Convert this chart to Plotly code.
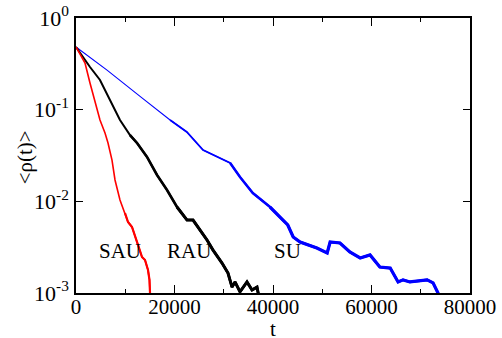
import math
import plotly.graph_objects as go

# Mean density <rho(t)> for three update schemes
su_t = [0, 6300, 13200, 19100, 22500, 25800, 29200, 31300, 33300, 35900, 39400,
        42000, 43000, 44100, 45500, 48900, 51000, 51600, 53600, 55600, 57700,
        59700, 61700, 63800, 65400, 66400, 67800, 71300, 72500, 73500, 73700]
su_rho = [0.483, 0.27, 0.137, 0.0771, 0.0571, 0.0363, 0.0297, 0.0262, 0.01844,
          0.01233, 0.00867, 0.00625, 0.00552, 0.00408, 0.0036, 0.0031, 0.00273,
          0.0036, 0.00351, 0.0028, 0.00241, 0.0026, 0.00192, 0.00187, 0.00132,
          0.00139, 0.00132, 0.00139, 0.00129, 0.001, 0.0008]

rau_t = [0, 2840, 4870, 6900, 8930, 10960, 12390, 14420, 16450, 18480, 20510,
         22540, 23760, 25180, 26600, 27820, 29650, 30860, 31680, 32290, 33300,
         34720, 35740, 36750, 37160]
rau_rho = [0.483, 0.292, 0.211, 0.1274, 0.0771, 0.0529, 0.0433, 0.0305, 0.01938,
           0.0133, 0.00867, 0.00625, 0.00625, 0.00486, 0.00379, 0.00294, 0.00212,
           0.00165, 0.00116, 0.00132, 0.00103, 0.00132, 0.00108, 0.00116, 0.0009]

sau_t = [0, 1830, 2840, 3860, 4870, 5890, 6500, 7310, 7920, 8930, 9950, 10560,
         11370, 11980, 12790, 13400, 14010, 14620, 14920, 15030, 15080]
sau_rho = [0.483, 0.323, 0.1954, 0.1183, 0.0771, 0.0557, 0.0433, 0.0282, 0.0171,
           0.01035, 0.00746, 0.00595, 0.00525, 0.00408, 0.0031, 0.00247, 0.00229,
           0.00178, 0.00139, 0.001, 0.0008]

x_tickvals = [0, 20000, 40000, 60000, 80000]
x_ticktext = ["0", "20000", "40000", "60000", "80000"]
y_tickvals = [1e-3, 1e-2, 1e-1, 1]
y_ticktext = ["10<sup>-3</sup>", "10<sup>-2</sup>", "10<sup>-1</sup>", "10<sup>0</sup>"]

labels = ["SAU", "RAU", "SU"]
label_t = [8900, 23000, 43000]
label_rho = [0.00287, 0.00287, 0.00287]

SERIF = "Liberation Serif"

fig = go.Figure()

# Each curve gets thicker as it decays (the fluctuations widen on a log scale),
# so the later stretches are redrawn with a heavier stroke.
def add_curve(t, rho, color, widths):
    for start, w in widths:
        idx = [i for i, v in enumerate(t) if v >= start]
        i0 = max(idx[0] - 1, 0) if idx else 0
        fig.add_trace(go.Scatter(x=t[i0:], y=rho[i0:], mode="lines",
                                 line=dict(color=color, width=w),
                                 showlegend=False, hoverinfo="skip"))

add_curve(su_t, su_rho, "#0000ff", [(0, 1.1), (22000, 1.8), (33000, 2.5), (42000, 3.2)])
add_curve(rau_t, rau_rho, "#000000", [(0, 2.0), (12000, 2.6), (22000, 3.0)])
add_curve(sau_t, sau_rho, "#ff0000", [(0, 1.6), (10000, 2.2)])

# annotations on a log axis take log10 positions
for txt, xt, yr in zip(labels, label_t, label_rho):
    fig.add_annotation(x=xt, y=math.log10(yr), yref="y", xref="x", text=txt,
                       showarrow=False,
                       font=dict(family=SERIF, size=21, color="black"),
                       xanchor="center", yanchor="middle")

# axis titles, placed by hand so they sit close to the tick labels
fig.add_annotation(x=-0.129, y=0.494, xref="paper", yref="paper", text="&lt;ρ(t)&gt;",
                   textangle=-90, showarrow=False,
                   font=dict(family=SERIF, size=21, color="black"),
                   xanchor="center", yanchor="middle")
fig.add_annotation(x=0.5, y=-0.13, xref="paper", yref="paper", text="t",
                   showarrow=False,
                   font=dict(family=SERIF, size=21, color="black"),
                   xanchor="center", yanchor="middle")

fig.update_layout(
    width=502, height=338, plot_bgcolor="white", paper_bgcolor="white",
    margin=dict(l=76, r=32, t=18, b=45),
    font=dict(family=SERIF, size=21, color="black"),
    xaxis=dict(range=[0, 80000], tickvals=x_tickvals, ticktext=x_ticktext,
               automargin=False,
               showline=True, linecolor="black", linewidth=1.5, mirror="ticks",
               ticks="inside", ticklen=8, tickcolor="black", tickwidth=1.3,
               ticklabelstandoff=-6, showgrid=False, zeroline=False,
               tickfont=dict(family=SERIF, size=21, color="black"),
               minor=dict(ticks="inside", ticklen=4, dtick=10000, tickcolor="black",
                          tickwidth=1.3, showgrid=False)),
    yaxis=dict(type="log", range=[-3, 0], tickvals=y_tickvals, ticktext=y_ticktext,
               automargin=False,
               showline=True, linecolor="black", linewidth=1.5, mirror="ticks",
               ticks="inside", ticklen=7, tickcolor="black", tickwidth=1.3,
               ticklabelstandoff=1, showgrid=False, zeroline=False,
               tickfont=dict(family=SERIF, size=22, color="black")),
)

fig.write_html("out.html")
